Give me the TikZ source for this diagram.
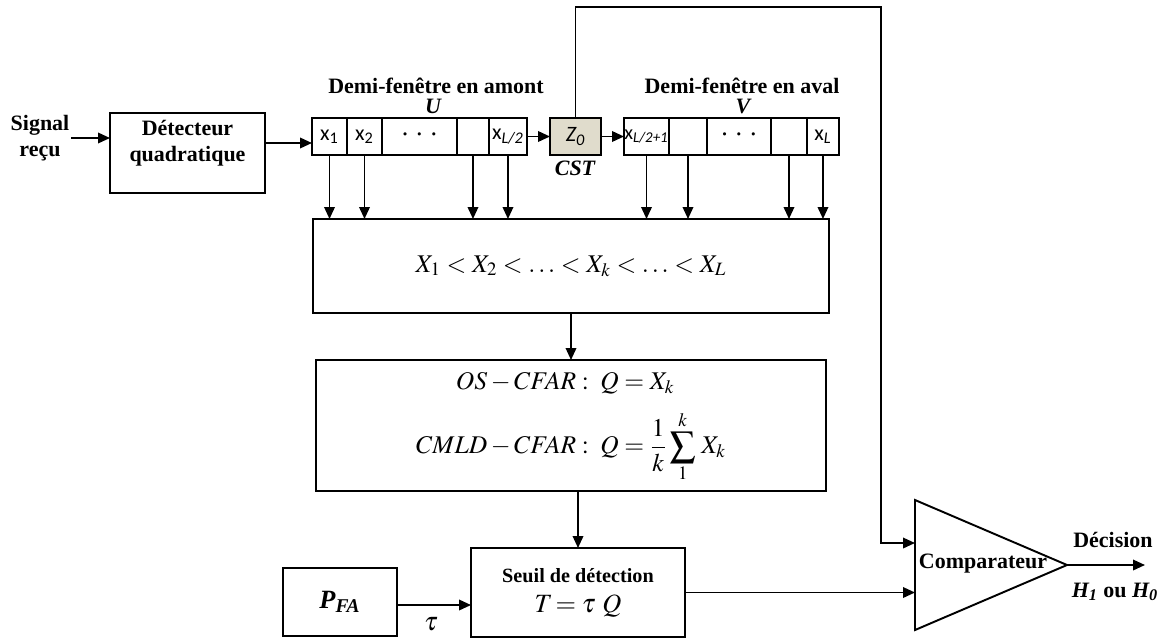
\documentclass[tikz,border=0pt]{standalone}
\usepackage{amsmath}
\usepackage{mathptmx}
\usepackage{fontspec}
\setmainfont{Liberation Serif}
\newfontfamily\cellfont{Carlito}
\usetikzlibrary{arrows.meta,positioning,calc}
\definecolor{ink}{RGB}{0,0,0}
\definecolor{cstfill}{RGB}{224,220,204}
\tikzset{
  blk/.style={draw=ink,line width=1pt,outer sep=0pt,inner sep=0pt},
  cell/.style={draw=ink,line width=1pt,outer sep=0pt,inner sep=0pt,
    minimum height=0.74cm,font=\cellfont\fontsize{12.5}{14}\selectfont},
  arr/.style={-{Triangle[length=2.4mm,width=2.1mm]},line width=1.1pt},
  lbl/.style={font=\bfseries\fontsize{12.5}{14.5}\selectfont,align=center,inner sep=1pt},
  eqn/.style={font=\fontsize{14.5}{17}\selectfont,inner sep=1pt},
}

\begin{document}
\begin{tikzpicture}[x=0.02cm,y=-0.02cm]
  \useasboundingbox (0,0) rectangle (1168,639);

  % entree et detecteur
  \node[lbl] (sig) at (40,138) {Signal\\reçu};
  \node[blk,minimum width=3.1cm,minimum height=1.6cm] (det) at (187.5,153) {};
  \node[lbl,below=3pt of det.north] (detT) {Détecteur\\quadratique};

  % demi-fenetre en amont
  \node[cell,minimum width=0.7cm] (u1) at (329.5,136.5) {x\textsubscript{1}};
  \node[cell,minimum width=0.7cm,right=0pt of u1] (u2) {x\textsubscript{2}};
  \node[cell,minimum width=1.5cm,right=0pt of u2] (u3) {·\hspace{5pt}·\hspace{5pt}·};
  \node[cell,minimum width=0.64cm,right=0pt of u3] (u4) {};
  \node[cell,minimum width=0.76cm,right=0pt of u4] (u5) {x\textsubscript{\itshape L/2}};
  \node[lbl] (amont) at (436,86) {Demi-fenêtre en amont};
  \node[lbl] (uname) at (433,106) {\itshape U};

  % cellule sous test
  \node[cell,fill=cstfill,minimum width=1.02cm] (z0) at (575.5,136.5) {\itshape Z\textsubscript{0}};
  \node[lbl] (cst) at (575,168) {\itshape CST};

  % demi-fenetre en aval
  \node[cell,minimum width=0.9cm,font=\cellfont\fontsize{11.5}{13}\selectfont] (v1)
    at (646.5,136.5) {x\textsubscript{\itshape L/2+1}};
  \node[cell,minimum width=0.76cm,right=0pt of v1] (v2) {};
  \node[cell,minimum width=1.28cm,right=0pt of v2] (v3) {·\hspace{5pt}·\hspace{5pt}·};
  \node[cell,minimum width=0.72cm,right=0pt of v3] (v4) {};
  \node[cell,minimum width=0.64cm,right=0pt of v4] (v5) {x\textsubscript{\itshape L}};
  \node[lbl] (aval) at (742,86) {Demi-fenêtre en aval};
  \node[lbl] (vname) at (743,106) {\itshape V};

  % tri et estimation
  \node[blk,eqn,minimum width=10.32cm,minimum height=1.88cm] (sort) at (571,266)
    {$X_1 < X_2 < \ldots < X_k < \ldots < X_L$};
  \node[blk,eqn,minimum width=10.2cm,minimum height=2.62cm] (form) at (571,425.5)
    {$\begin{aligned}
      OS-CFAR &: \; Q = X_k\\[3pt]
      CMLD-CFAR &: \; Q=\frac{1}{k}\sum_{1}^{k}\, X_k
    \end{aligned}$};

  % seuil
  \node[blk,minimum width=2.28cm,minimum height=1.36cm,
    font=\bfseries\itshape\fontsize{15}{17}\selectfont] (pfa) at (340,602)
    {P\textsubscript{FA}};
  \node[blk,minimum width=4.28cm,minimum height=1.78cm,align=center] (seuil) at (578,592.5)
    {{\bfseries\fontsize{11.5}{13}\selectfont Seuil de détection}\\[5pt]
     {\fontsize{15}{17}\selectfont $T\!=\tau\ Q$}};
  \node[font=\fontsize{15}{17}\selectfont] (tau) at (431,624) {$\tau$};

  % comparateur
  \coordinate (cmpA) at (915,500);
  \coordinate (cmpB) at (915,630);
  \coordinate (cmpC) at (1067,565);
  \draw[line width=1.1pt,fill=white,line join=miter] (cmpA) -- (cmpC) -- (cmpB) -- cycle;
  \node[lbl] (cmp) at (983,564) {Comparateur};
  \coordinate (fb) at (881,7);
  \coordinate (cmpIn) at (915,543);
  \coordinate (out) at (1145,565);
  \node[lbl] (dec) at (1113,540) {Décision};
  \node[lbl] (hyp) at (1115,592) {\itshape H\textsubscript{1}\upshape\ ou \itshape H\textsubscript{0}};

  % liaisons
  \draw[arr] (sig.east) -- (sig.east -| det.west);
  \draw[arr] (det.east |- 0,143) -- (u1.west |- 0,143);
  \draw[arr] (u5.east) -- (z0.west);
  \draw[arr] (z0.east) -- (v1.west);
  \foreach \c in {u1,u2,u4,u5,v1,v2,v4,v5}
    \draw[arr] (\c.south) -- (\c.south |- sort.north);
  \draw[arr] (sort.south) -- (form.north);
  \draw[arr] (seuil.north |- form.south) -- (seuil.north);
  \draw[arr] (pfa.east |- 0,605) -- (seuil.west |- 0,605);
  \draw[arr] (seuil.east) -- (seuil.east -| cmpA);
  \draw[arr,line join=miter] (z0.north) |- (fb) |- (cmpIn);
  \draw[arr] (cmpC) -- (out);
\end{tikzpicture}
\end{document}
